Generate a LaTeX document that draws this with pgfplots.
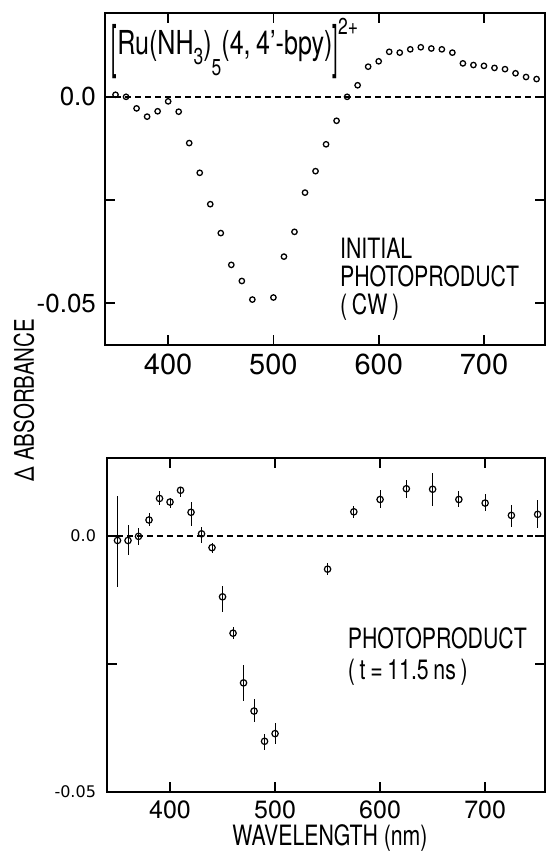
\documentclass[border=0pt]{standalone}
\usepackage{graphicx}
\usepackage{pgfplots}
\usepackage{pgfplotstable}
\pgfplotsset{compat=1.18}
\usepackage{fontspec}
\setmainfont{TeX Gyre Heros}
\newfontfamily\condensed[FakeStretch=0.76]{TeX Gyre Heros}
\newfontfamily\smallticks{DejaVu Sans}

% CW difference spectrum (nm, Delta A)
\pgfplotstableread{
x    y
350  0.0005
360  0.0000
370 -0.0028
380 -0.0048
390 -0.0035
400 -0.0011
410 -0.0036
420 -0.0112
430 -0.0184
440 -0.0260
450 -0.0330
460 -0.0407
470 -0.0446
480 -0.0491
500 -0.0486
510 -0.0387
520 -0.0327
530 -0.0232
540 -0.0180
550 -0.0115
560 -0.0058
570  0.0000
580  0.0028
590  0.0073
600  0.0086
610  0.0109
620  0.0107
630  0.0115
640  0.0120
650  0.0117
660  0.0115
670  0.0107
680  0.0081
690  0.0077
700  0.0075
710  0.0070
720  0.0067
730  0.0057
740  0.0048
750  0.0043
}\cwdata

% transient spectrum at 11.5 ns with error bars
\pgfplotstableread{
x    y        ep      em
350 -0.0009  0.0087  0.0090
360 -0.0009  0.0030  0.0028
370 -0.0001  0.0016  0.0017
380  0.0031  0.0013  0.0011
390  0.0073  0.0014  0.0012
400  0.0066  0.0008  0.0012
410  0.0089  0.0007  0.0013
420  0.0046  0.0021  0.0026
430  0.0004  0.0014  0.0017
440 -0.0023  0.0009  0.0011
450 -0.0119  0.0022  0.0029
460 -0.0190  0.0012  0.0012
470 -0.0287  0.0035  0.0035
480 -0.0342  0.0023  0.0021
490 -0.0401  0.0015  0.0017
500 -0.0386  0.0020  0.0021
550 -0.0065  0.0012  0.0011
575  0.0047  0.0012  0.0013
600  0.0071  0.0018  0.0017
625  0.0092  0.0018  0.0018
650  0.0091  0.0032  0.0032
675  0.0071  0.0016  0.0015
700  0.0064  0.0018  0.0016
725  0.0040  0.0021  0.0023
750  0.0042  0.0028  0.0027
}\nsdata

\pgfplotsset{
  spectrum/.style={
    scale only axis,
    anchor=south west,
    axis line style={line width=0.9pt},
    tick style={line width=0.9pt, black},
    tick align=inside,
    major tick length=5pt,
    xtick={400,500,600,700},
    xticklabels={400,500,600,700},
    ytick={-0.05,-0.025,0},
    scaled y ticks=false,
    scaled x ticks=false,
    clip=false,
  }
}

\begin{document}
\begin{tikzpicture}[x=1pt,y=1pt]
\useasboundingbox (0,0) rectangle (273,426);

% upper panel: CW photoproduct
\begin{axis}[spectrum,
  at={(52.5pt,253.5pt)}, width=220pt, height=166pt,
  xmin=340, xmax=758, ymin=-0.0601, ymax=0.0203,
  yticklabels={-0.05,{},0.0},
  xticklabel style={font=\fontsize{14.5}{15}\selectfont, yshift=-1pt},
  yticklabel style={font=\fontsize{13}{14}\selectfont, xshift=-1pt},
]
\addplot[black, line width=0.9pt, dash pattern=on 3pt off 2pt] coordinates {(340,0) (758,0)};
\addplot[only marks, mark=o, mark size=1.35pt, mark options={line width=0.65pt, black}]
  table[x=x, y=y] {\cwdata};
\node[anchor=base west, inner sep=0pt] at (axis cs:346,0.0102)
  {\condensed\fontsize{16.5}{16}\selectfont
   \raisebox{-0.36em}{\scalebox{0.8}[1.75]{[}}Ru(NH\raisebox{-0.3em}{\fontsize{11.5}{11}\selectfont 3})\raisebox{-0.62em}{\fontsize{11.5}{11}\selectfont 5}(4,\,4’-bpy)\raisebox{-0.36em}{\scalebox{0.8}[1.75]{]}}\raisebox{0.62em}{\fontsize{11.5}{11}\selectfont 2+}};
\node[anchor=north west, inner sep=0pt, align=left,
      font=\condensed\fontsize{14}{14}\selectfont] at (axis cs:563,-0.0342)
  {INITIAL\\PHOTOPRODUCT\\(\,CW\,)};
\end{axis}

% lower panel: photoproduct at 11.5 ns
\begin{axis}[spectrum,
  at={(53.5pt,30pt)}, width=219pt, height=167pt,
  xmin=340, xmax=757, ymin=-0.05, ymax=0.0152,
  yticklabels={-0.05,{},0.0},
  xticklabel style={font=\fontsize{12.5}{13}\selectfont, yshift=-1pt},
  yticklabel style={font=\smallticks\fontsize{8}{9}\selectfont, xshift=-2pt},
]
\addplot[black, line width=0.9pt, dash pattern=on 3pt off 2pt] coordinates {(340,0) (757,0)};
\addplot[only marks, mark=o, mark size=1.6pt, mark options={line width=0.6pt, black},
  error bars/.cd, y dir=both, y explicit, error mark=none,
  error bar style={line width=0.5pt, black}]
  table[x=x, y=y, y error plus=ep, y error minus=em] {\nsdata};
\node[anchor=north west, inner sep=0pt, align=left,
      font=\condensed\fontsize{14}{15.5}\selectfont] at (axis cs:569,-0.0178)
  {PHOTOPRODUCT\\(\,t\,=\,11.5\,ns\,)};
\end{axis}

% shared axis titles
\node[rotate=90, inner sep=0pt] at (12pt,226pt)
  {\condensed\fontsize{13.5}{14}\selectfont Δ ABSORBANCE};
\node[anchor=base, inner sep=0pt] at (165pt,3.2pt)
  {\condensed\fontsize{14}{15}\selectfont WAVELENGTH (nm)};
\end{tikzpicture}
\end{document}
